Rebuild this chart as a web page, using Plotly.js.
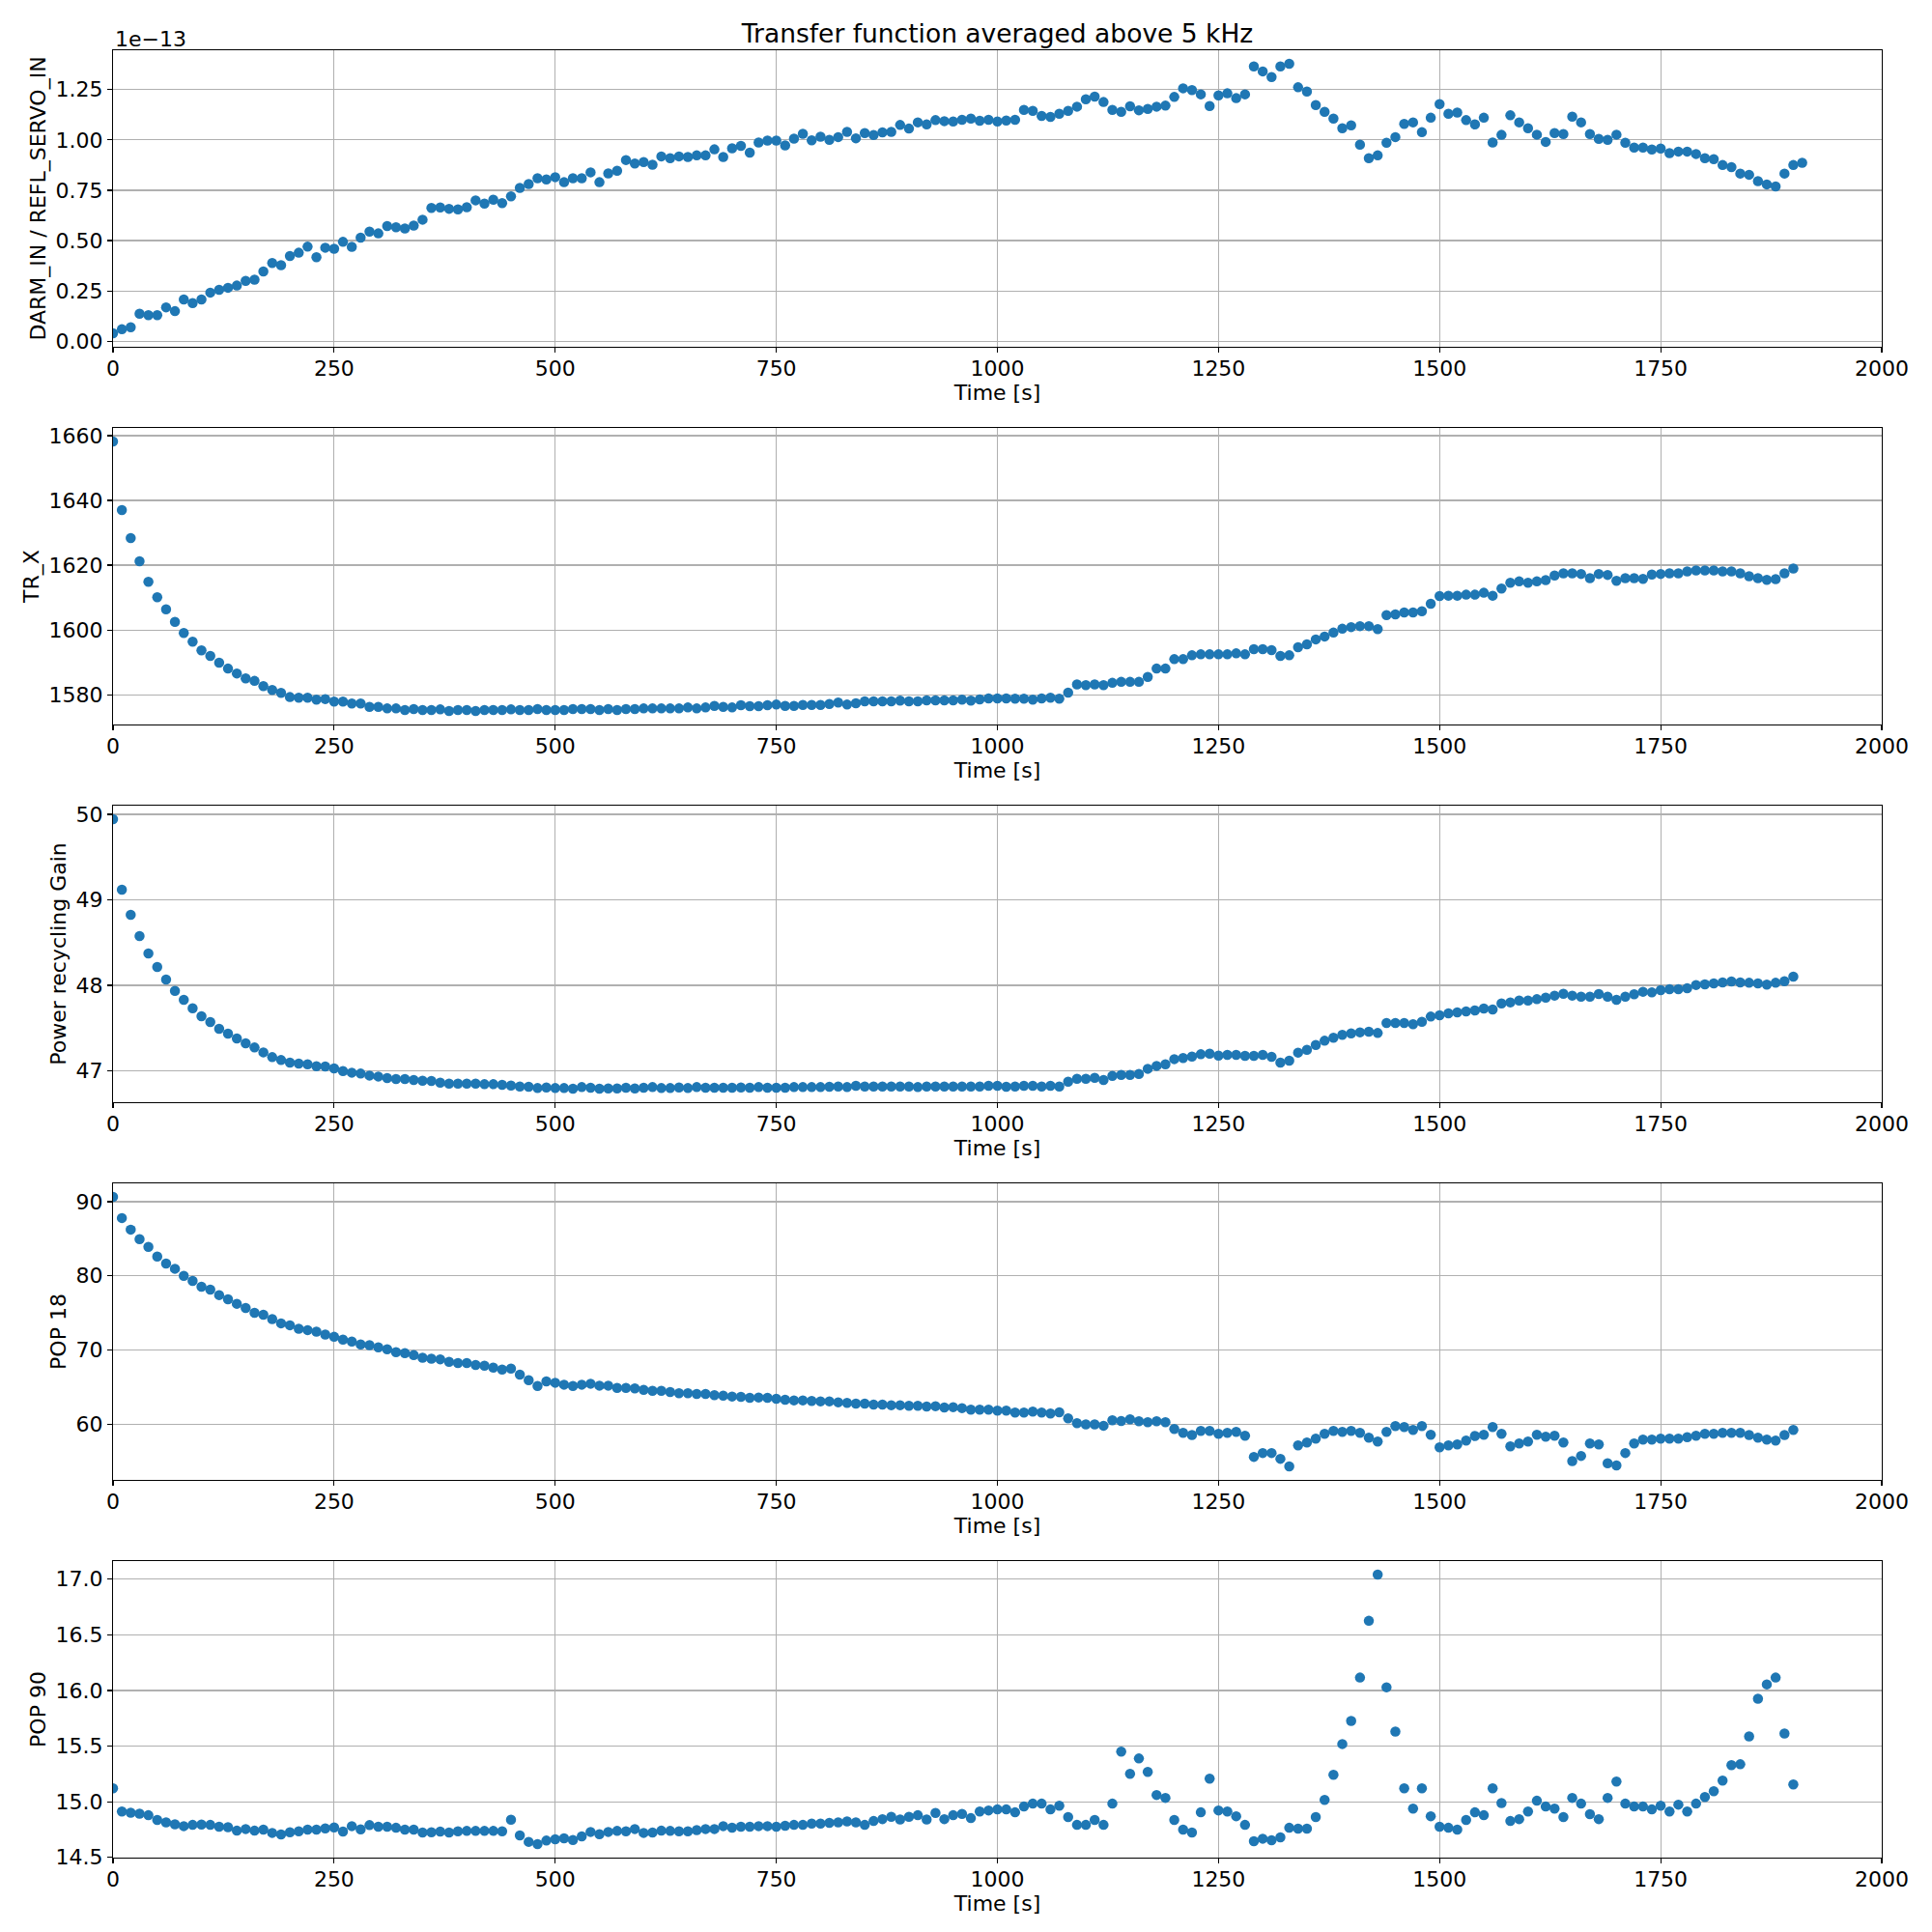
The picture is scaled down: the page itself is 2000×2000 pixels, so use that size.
<!DOCTYPE html>
<html>
<head>
<meta charset="utf-8">
<script src="https://cdn.plot.ly/plotly-3.0.1.min.js"></script>
<style>
  html, body { margin: 0; padding: 0; background: #fff; }
  #chart { width: 2000px; height: 2000px; }
</style>
</head>
<body>
<div id="chart"></div>
<script>
// ─── Data (time in s, sampled every 10 s) ───────────────────
var time = [
  0, 10, 20, 30, 40, 50, 60, 70, 80, 90, 100, 110, 120, 130, 140, 150, 160, 170, 180, 190,
  200, 210, 220, 230, 240, 250, 260, 270, 280, 290, 300, 310, 320, 330, 340, 350, 360, 370, 380, 390,
  400, 410, 420, 430, 440, 450, 460, 470, 480, 490, 500, 510, 520, 530, 540, 550, 560, 570, 580, 590,
  600, 610, 620, 630, 640, 650, 660, 670, 680, 690, 700, 710, 720, 730, 740, 750, 760, 770, 780, 790,
  800, 810, 820, 830, 840, 850, 860, 870, 880, 890, 900, 910, 920, 930, 940, 950, 960, 970, 980, 990,
  1000, 1010, 1020, 1030, 1040, 1050, 1060, 1070, 1080, 1090, 1100, 1110, 1120, 1130, 1140, 1150, 1160, 1170, 1180, 1190,
  1200, 1210, 1220, 1230, 1240, 1250, 1260, 1270, 1280, 1290, 1300, 1310, 1320, 1330, 1340, 1350, 1360, 1370, 1380, 1390,
  1400, 1410, 1420, 1430, 1440, 1450, 1460, 1470, 1480, 1490, 1500, 1510, 1520, 1530, 1540, 1550, 1560, 1570, 1580, 1590,
  1600, 1610, 1620, 1630, 1640, 1650, 1660, 1670, 1680, 1690, 1700, 1710, 1720, 1730, 1740, 1750, 1760, 1770, 1780, 1790,
  1800, 1810, 1820, 1830, 1840, 1850, 1860, 1870, 1880, 1890, 1900, 1910
];

// DARM_IN / REFL_SERVO_IN, in units of 1e-13 (one sample more than the others)
var tfRatio = [
  0.040, 0.060, 0.070, 0.137, 0.130, 0.130, 0.169, 0.150, 0.208, 0.190, 0.208, 0.242, 0.256, 0.266, 0.277, 0.300, 0.306, 0.347, 0.389, 0.378,
  0.424, 0.440, 0.470, 0.418, 0.465, 0.460, 0.494, 0.469, 0.515, 0.545, 0.536, 0.572, 0.566, 0.560, 0.575, 0.604, 0.662, 0.665, 0.658, 0.655,
  0.666, 0.700, 0.684, 0.703, 0.686, 0.720, 0.762, 0.781, 0.810, 0.804, 0.815, 0.790, 0.810, 0.810, 0.839, 0.790, 0.834, 0.847, 0.900, 0.883,
  0.890, 0.877, 0.918, 0.909, 0.918, 0.915, 0.923, 0.923, 0.953, 0.915, 0.958, 0.970, 0.937, 0.987, 0.997, 0.997, 0.973, 1.006, 1.030, 0.998,
  1.016, 1.000, 1.014, 1.040, 1.008, 1.034, 1.024, 1.037, 1.040, 1.074, 1.056, 1.087, 1.077, 1.098, 1.093, 1.091, 1.100, 1.106, 1.095, 1.100,
  1.091, 1.096, 1.100, 1.149, 1.144, 1.119, 1.114, 1.130, 1.144, 1.165, 1.202, 1.215, 1.188, 1.149, 1.139, 1.167, 1.147, 1.154, 1.165, 1.170,
  1.213, 1.256, 1.247, 1.226, 1.168, 1.221, 1.231, 1.207, 1.226, 1.365, 1.340, 1.312, 1.365, 1.378, 1.261, 1.240, 1.173, 1.139, 1.106, 1.058,
  1.072, 0.976, 0.909, 0.923, 0.986, 1.014, 1.079, 1.087, 1.038, 1.110, 1.178, 1.130, 1.136, 1.098, 1.077, 1.110, 0.987, 1.025, 1.122, 1.087,
  1.058, 1.026, 0.990, 1.034, 1.029, 1.115, 1.087, 1.029, 1.005, 1.000, 1.026, 0.986, 0.962, 0.962, 0.952, 0.957, 0.934, 0.942, 0.942, 0.930,
  0.909, 0.904, 0.875, 0.865, 0.833, 0.827, 0.795, 0.779, 0.769, 0.833, 0.875, 0.886
];

var trX = [
  1658.2, 1637.0, 1628.4, 1621.2, 1614.9, 1610.1, 1606.4, 1602.5, 1599.1, 1596.4, 1593.7, 1592.0, 1589.9, 1588.1, 1586.6, 1585.1, 1584.3, 1582.7, 1581.5, 1580.6,
  1579.3, 1579.1, 1579.1, 1578.5, 1578.7, 1577.9, 1577.9, 1577.3, 1577.3, 1576.3, 1576.3, 1575.8, 1575.8, 1575.3, 1575.6, 1575.3, 1575.3, 1575.5, 1575.0, 1575.3,
  1575.3, 1575.0, 1575.3, 1575.3, 1575.3, 1575.5, 1575.3, 1575.3, 1575.6, 1575.3, 1575.3, 1575.3, 1575.6, 1575.6, 1575.6, 1575.3, 1575.6, 1575.3, 1575.6, 1575.6,
  1575.8, 1575.8, 1575.8, 1575.8, 1575.8, 1576.1, 1575.8, 1576.1, 1576.6, 1576.3, 1576.1, 1576.8, 1576.5, 1576.5, 1576.8, 1577.0, 1576.6, 1576.6, 1576.9, 1576.9,
  1576.9, 1577.2, 1577.6, 1577.0, 1577.4, 1578.0, 1578.0, 1578.0, 1578.0, 1578.2, 1578.0, 1578.0, 1578.3, 1578.3, 1578.3, 1578.3, 1578.5, 1578.2, 1578.6, 1578.9,
  1578.9, 1578.9, 1578.8, 1578.8, 1578.5, 1578.9, 1579.1, 1578.8, 1580.7, 1583.2, 1583.0, 1583.2, 1583.0, 1583.7, 1584.0, 1584.0, 1584.0, 1585.5, 1588.1, 1588.1,
  1591.0, 1591.0, 1592.2, 1592.5, 1592.5, 1592.5, 1592.5, 1592.8, 1592.5, 1594.1, 1594.1, 1593.8, 1592.0, 1592.2, 1594.7, 1595.6, 1597.1, 1598.0, 1599.2, 1600.4,
  1600.9, 1601.2, 1601.2, 1600.3, 1604.6, 1604.8, 1605.4, 1605.4, 1605.8, 1608.1, 1610.5, 1610.6, 1610.6, 1610.9, 1610.9, 1611.5, 1610.6, 1612.8, 1614.6, 1615.0,
  1614.6, 1615.0, 1615.4, 1616.8, 1617.5, 1617.5, 1617.3, 1616.0, 1617.3, 1617.0, 1615.2, 1616.0, 1616.0, 1615.8, 1617.1, 1617.3, 1617.5, 1617.5, 1618.1, 1618.4,
  1618.4, 1618.4, 1618.1, 1618.1, 1617.5, 1616.6, 1616.0, 1615.5, 1615.7, 1617.5, 1619.0
];

var prGain = [
  49.943, 49.119, 48.825, 48.577, 48.374, 48.216, 48.069, 47.937, 47.832, 47.734, 47.640, 47.572, 47.493, 47.437, 47.380, 47.324, 47.275, 47.218, 47.162, 47.128,
  47.098, 47.087, 47.079, 47.056, 47.053, 47.030, 47.000, 46.981, 46.970, 46.947, 46.936, 46.917, 46.906, 46.906, 46.895, 46.887, 46.883, 46.865, 46.853, 46.853,
  46.853, 46.853, 46.846, 46.846, 46.838, 46.831, 46.819, 46.816, 46.801, 46.808, 46.801, 46.801, 46.793, 46.812, 46.804, 46.793, 46.797, 46.797, 46.804, 46.797,
  46.804, 46.812, 46.801, 46.801, 46.808, 46.801, 46.812, 46.804, 46.804, 46.804, 46.804, 46.808, 46.804, 46.812, 46.804, 46.804, 46.804, 46.812, 46.812, 46.812,
  46.812, 46.816, 46.819, 46.812, 46.827, 46.819, 46.819, 46.819, 46.819, 46.819, 46.819, 46.812, 46.819, 46.819, 46.819, 46.819, 46.819, 46.819, 46.819, 46.827,
  46.827, 46.816, 46.819, 46.827, 46.827, 46.819, 46.827, 46.819, 46.876, 46.910, 46.910, 46.921, 46.895, 46.944, 46.955, 46.955, 46.966, 47.026, 47.060, 47.079,
  47.139, 47.151, 47.169, 47.196, 47.203, 47.181, 47.188, 47.188, 47.177, 47.177, 47.188, 47.166, 47.098, 47.120, 47.215, 47.248, 47.305, 47.354, 47.388, 47.422,
  47.440, 47.452, 47.459, 47.444, 47.561, 47.561, 47.561, 47.546, 47.576, 47.636, 47.651, 47.674, 47.685, 47.696, 47.708, 47.730, 47.719, 47.790, 47.802, 47.824,
  47.824, 47.839, 47.858, 47.881, 47.903, 47.881, 47.869, 47.869, 47.900, 47.869, 47.832, 47.869, 47.896, 47.926, 47.918, 47.945, 47.956, 47.956, 47.967, 48.005,
  48.012, 48.024, 48.035, 48.046, 48.035, 48.031, 48.024, 48.009, 48.031, 48.050, 48.103
];

var pop18 = [
  90.65, 87.79, 86.23, 84.94, 83.90, 82.60, 81.65, 80.95, 80.00, 79.31, 78.53, 78.14, 77.40, 76.84, 76.23, 75.67, 75.02, 74.76, 74.16, 73.59,
  73.33, 72.86, 72.68, 72.47, 72.08, 71.77, 71.39, 71.13, 70.74, 70.65, 70.35, 70.09, 69.70, 69.57, 69.31, 68.96, 68.83, 68.74, 68.40, 68.23,
  68.23, 67.97, 67.88, 67.62, 67.36, 67.49, 66.67, 65.93, 65.15, 65.76, 65.58, 65.32, 65.15, 65.32, 65.45, 65.19, 65.19, 64.89, 64.89, 64.81,
  64.63, 64.50, 64.50, 64.33, 64.16, 64.16, 64.07, 64.07, 63.90, 63.85, 63.72, 63.68, 63.55, 63.59, 63.55, 63.42, 63.29, 63.20, 63.20, 63.12,
  63.07, 63.07, 62.94, 62.86, 62.77, 62.77, 62.64, 62.64, 62.55, 62.55, 62.47, 62.47, 62.38, 62.42, 62.25, 62.29, 62.16, 61.95, 61.95, 61.95,
  61.82, 61.82, 61.56, 61.56, 61.69, 61.56, 61.43, 61.60, 60.78, 60.13, 59.96, 59.96, 59.78, 60.52, 60.43, 60.65, 60.39, 60.26, 60.39, 60.26,
  59.35, 58.83, 58.53, 59.09, 59.09, 58.70, 58.83, 58.96, 58.44, 55.58, 56.10, 56.10, 55.32, 54.29, 57.14, 57.53, 58.05, 58.70, 59.09, 58.96,
  59.09, 58.83, 58.18, 57.66, 58.96, 59.74, 59.61, 59.22, 59.74, 58.57, 56.88, 57.14, 57.27, 57.79, 58.40, 58.57, 59.61, 58.70, 57.01, 57.40,
  57.66, 58.57, 58.31, 58.44, 57.53, 55.02, 55.71, 57.40, 57.27, 54.72, 54.42, 56.10, 57.40, 57.92, 57.92, 58.05, 58.05, 58.05, 58.23, 58.44,
  58.70, 58.70, 58.83, 58.83, 58.83, 58.53, 58.18, 57.92, 57.79, 58.53, 59.22
];

var pop90 = [
  15.121, 14.913, 14.902, 14.893, 14.879, 14.836, 14.815, 14.798, 14.781, 14.792, 14.795, 14.792, 14.775, 14.772, 14.740, 14.755, 14.740, 14.749, 14.720, 14.706,
  14.726, 14.735, 14.749, 14.749, 14.761, 14.769, 14.732, 14.781, 14.752, 14.790, 14.775, 14.775, 14.766, 14.749, 14.749, 14.723, 14.726, 14.732, 14.723, 14.735,
  14.738, 14.738, 14.738, 14.738, 14.735, 14.839, 14.697, 14.640, 14.619, 14.651, 14.663, 14.671, 14.657, 14.689, 14.729, 14.709, 14.729, 14.738, 14.735, 14.755,
  14.720, 14.723, 14.740, 14.738, 14.735, 14.735, 14.746, 14.755, 14.755, 14.781, 14.767, 14.775, 14.775, 14.781, 14.781, 14.775, 14.784, 14.792, 14.792, 14.804,
  14.804, 14.810, 14.815, 14.824, 14.815, 14.792, 14.827, 14.844, 14.864, 14.841, 14.864, 14.879, 14.841, 14.899, 14.844, 14.879, 14.890, 14.853, 14.913, 14.922,
  14.931, 14.931, 14.905, 14.957, 14.983, 14.983, 14.931, 14.965, 14.862, 14.792, 14.792, 14.836, 14.792, 14.983, 15.450, 15.251, 15.389, 15.268, 15.061, 15.035,
  14.836, 14.749, 14.723, 14.905, 15.208, 14.922, 14.913, 14.870, 14.792, 14.645, 14.668, 14.654, 14.680, 14.766, 14.758, 14.758, 14.862, 15.017, 15.242, 15.519,
  15.727, 16.116, 16.626, 17.042, 16.029, 15.631, 15.121, 14.939, 15.121, 14.870, 14.775, 14.766, 14.749, 14.836, 14.905, 14.879, 15.121, 14.988, 14.827, 14.844,
  14.913, 15.009, 14.957, 14.939, 14.862, 15.035, 14.983, 14.888, 14.844, 15.035, 15.182, 14.983, 14.957, 14.957, 14.931, 14.965, 14.913, 14.974, 14.913, 14.983,
  15.043, 15.095, 15.190, 15.329, 15.337, 15.588, 15.926, 16.055, 16.116, 15.614, 15.156
];

// ─── Layout helpers ─────────────────────────────────────────
var W = 2000, H = 2000;
var FONT = 'DejaVu Sans, Verdana, sans-serif';
var FS = 22;          // tick / axis label size
var BLUE = '#1f77b4';
var GRID = '#b0b0b0';
var axLeft = 117, axRight = 1948;
var panelTop = [52, 443, 834, 1225, 1616];
var panelH = 307;

var panels = [
  { y: tfRatio, title: 'DARM_IN / REFL_SERVO_IN', dtick: 0.25, fmt: '.2f' },
  { y: trX, title: 'TR_X', dtick: 20, fmt: '' },
  { y: prGain, title: 'Power recycling Gain', dtick: 1, fmt: '' },
  { y: pop18, title: 'POP 18', dtick: 10, fmt: '' },
  { y: pop90, title: 'POP 90', dtick: 0.5, fmt: '.1f' }
];

// matplotlib-like autoscale: 5% margin on each side
function padRange(arr) {
  var lo = Math.min.apply(null, arr), hi = Math.max.apply(null, arr);
  var m = (hi - lo) * 0.05;
  return [lo - m, hi + m];
}

var traces = [];
var layout = {
  width: W, height: H,
  margin: { l: 0, r: 0, t: 0, b: 0 },
  paper_bgcolor: '#fff', plot_bgcolor: '#fff',
  showlegend: false,
  font: { family: FONT, size: FS, color: '#000' },
  title: {
    text: 'Transfer function averaged above 5 kHz',
    font: { family: FONT, size: 26.5, color: '#000' },
    x: (axLeft + axRight) / 2 / W, xanchor: 'center',
    y: 1 - 35 / H, yanchor: 'middle'
  },
  annotations: [{
    text: '1e\u221213', showarrow: false,
    xref: 'paper', yref: 'paper',
    x: axLeft / W, xanchor: 'left',
    y: 1 - 55 / H, yanchor: 'bottom',
    font: { family: FONT, size: FS, color: '#000' }
  }]
};

panels.forEach(function (p, i) {
  var n = i + 1;
  var sfx = n === 1 ? '' : String(n);
  traces.push({
    type: 'scatter', mode: 'markers',
    x: time.slice(0, p.y.length), y: p.y,
    xaxis: 'x' + sfx, yaxis: 'y' + sfx,
    marker: { color: BLUE, size: 10.5, line: { width: 0 } },
    cliponaxis: true, hoverinfo: 'x+y'
  });

  var top = panelTop[i], bottom = top + panelH;
  var common = {
    showline: true, mirror: true, linecolor: '#000', linewidth: 1.2,
    ticks: 'outside', ticklen: 5, tickwidth: 1.2, tickcolor: '#000',
    showgrid: true, gridcolor: GRID, gridwidth: 1.2,
    zeroline: false, automargin: false,
    tickfont: { family: FONT, size: FS, color: '#000' }
  };
  layout['xaxis' + sfx] = Object.assign({}, common, {
    domain: [axLeft / W, axRight / W],
    anchor: 'y' + sfx,
    range: [0, 2000], tick0: 0, dtick: 250,
    ticklabelstandoff: -3,
    title: { text: 'Time [s]', standoff: 0, font: { family: FONT, size: FS, color: '#000' } }
  });
  layout['yaxis' + sfx] = Object.assign({}, common, {
    domain: [1 - bottom / H, 1 - top / H],
    anchor: 'x' + sfx,
    range: padRange(p.y), tick0: 0, dtick: p.dtick, tickformat: p.fmt,
    title: { text: p.title, standoff: 3, font: { family: FONT, size: FS, color: '#000' } }
  });
});

Plotly.newPlot('chart', traces, layout, { staticPlot: true, displayModeBar: false });
</script>
</body>
</html>
